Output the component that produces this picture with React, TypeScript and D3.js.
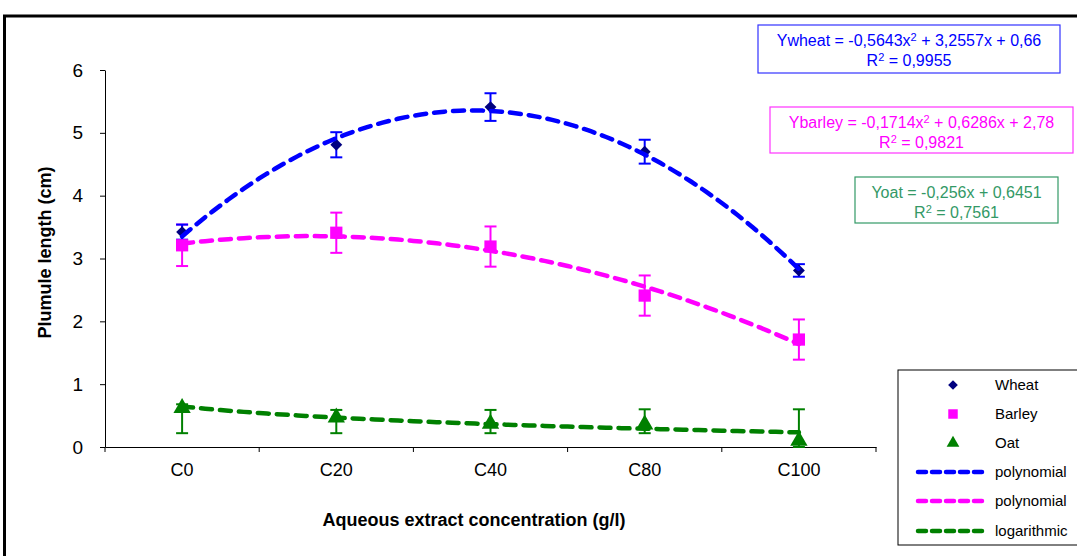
import { useEffect, useRef } from 'react';
import * as d3 from 'd3';

// categories on the x axis
const categories = ['C0', 'C20', 'C40', 'C80', 'C100'];

// means and error bars
const wheat = [3.42, 4.81, 5.41, 4.7, 2.81];
const wheatErr = [0.12, 0.2, 0.22, 0.19, 0.1];
const barley = [3.21, 3.41, 3.19, 2.41, 1.71];
const barleyErr = [0.33, 0.32, 0.32, 0.32, 0.32];
const oat = [0.62, 0.47, 0.37, 0.36, 0.1];
const oatErrLow = [0.4, 0.25, 0.15, 0.14, 0.1];
const oatErrHigh = [0.06, 0.12, 0.22, 0.24, 0.5];

// trend line coefficients as printed on the chart
const wheatPoly = [-0.5643, 3.2557, 0.66];
const barleyPoly = [-0.1714, 0.6286, 2.78];
const oatLog = [-0.256, 0.6451];

const yTicks = [0, 1, 2, 3, 4, 5, 6];

const FONT = '"Liberation Sans", Arial, sans-serif';

export default function App() {
  const svgRef = useRef<SVGSVGElement>(null);

  useEffect(() => {
    const svgWidth = 1077;
    const svgHeight = 556;
    const left = 105;
    const right = 876;
    const top = 70;
    const bottom = 447;

    const svg = d3.select(svgRef.current).attr('width', svgWidth).attr('height', svgHeight);
    svg.selectAll('*').remove();

    svg.append('rect').attr('width', svgWidth).attr('height', svgHeight).attr('fill', '#fff');

    // outer chart frame (only top and left edges are inside the picture)
    svg
      .append('path')
      .attr('d', `M4.5,${svgHeight + 5} V16 H${svgWidth + 5}`)
      .attr('fill', 'none')
      .attr('stroke', '#000')
      .attr('stroke-width', 3);

    const xBand = d3.scaleBand().domain(categories).range([left, right]);
    const xCenter = (i: number) => (xBand(categories[i]) as number) + xBand.bandwidth() / 2;
    const xNum = d3.scaleLinear().domain([1, 5]).range([xCenter(0), xCenter(4)]);
    const y = d3.scaleLinear().domain([0, 6]).range([bottom, top]);

    // y axis
    const yAxis = d3.axisLeft(y).tickValues(yTicks).tickFormat(d3.format('d')).tickSize(5).tickSizeOuter(0);
    const yG = svg.append('g').attr('transform', `translate(${left},0)`).call(yAxis);
    yG.select('.domain').attr('stroke', '#000');
    yG.selectAll('.tick line').attr('stroke', '#000');
    yG.selectAll('.tick text')
      .attr('font-family', FONT)
      .attr('font-size', 19)
      .attr('fill', '#000')
      .attr('x', -22);

    // x axis
    const xAxis = d3.axisBottom(xBand).tickSize(0).tickSizeOuter(0);
    const xG = svg.append('g').attr('transform', `translate(0,${bottom})`).call(xAxis);
    xG.select('.domain').attr('stroke', '#000');
    xG.selectAll('.tick text')
      .attr('font-family', FONT)
      .attr('font-size', 18)
      .attr('fill', '#000')
      .attr('y', 16);
    const boundaries = d3.range(categories.length + 1).map((i) => left + i * xBand.bandwidth());
    svg
      .append('g')
      .selectAll('line')
      .data(boundaries)
      .join('line')
      .attr('x1', (d) => d)
      .attr('x2', (d) => d)
      .attr('y1', bottom)
      .attr('y2', bottom + 5)
      .attr('stroke', '#000');

    // axis titles
    svg
      .append('text')
      .attr('transform', `translate(51,${(top + bottom) / 2 - 6}) rotate(-90)`)
      .attr('text-anchor', 'middle')
      .attr('font-family', FONT)
      .attr('font-weight', 'bold')
      .attr('font-size', 18)
      .text('Plumule length (cm)');
    svg
      .append('text')
      .attr('x', 474)
      .attr('y', 526)
      .attr('text-anchor', 'middle')
      .attr('font-family', FONT)
      .attr('font-weight', 'bold')
      .attr('font-size', 18)
      .text('Aqueous extract concentration (g/l)');

    // trend lines
    const xs = d3.range(1, 5.001, 0.05);
    const line = d3
      .line<[number, number]>()
      .x((d) => xNum(d[0]))
      .y((d) => y(d[1]));
    const trends = [
      { color: '#0000ff', f: (x: number) => wheatPoly[0] * x * x + wheatPoly[1] * x + wheatPoly[2] },
      { color: '#ff00ff', f: (x: number) => barleyPoly[0] * x * x + barleyPoly[1] * x + barleyPoly[2] },
      { color: '#008000', f: (x: number) => oatLog[0] * Math.log(x) + oatLog[1] },
    ];

    // error bars
    const errGroup = svg.append('g');
    const drawErr = (vals: number[], lo: number[], hi: number[], color: string) => {
      vals.forEach((v, i) => {
        const cx = xCenter(i);
        const y1 = y(v + hi[i]);
        const y2 = y(v - lo[i]);
        errGroup.append('line').attr('x1', cx).attr('x2', cx).attr('y1', y1).attr('y2', y2)
          .attr('stroke', color).attr('stroke-width', 2);
        [y1, y2].forEach((yy) =>
          errGroup.append('line').attr('x1', cx - 6).attr('x2', cx + 6).attr('y1', yy).attr('y2', yy)
            .attr('stroke', color).attr('stroke-width', 2));
      });
    };
    drawErr(oat, oatErrLow, oatErrHigh, '#008000');
    drawErr(barley, barleyErr, barleyErr, '#ff00ff');
    drawErr(wheat, wheatErr, wheatErr, '#0000ff');

    // markers
    const markerGroup = svg.append('g');
    const diamond = d3.symbol(d3.symbolDiamond2, 90);
    const square = d3.symbol(d3.symbolSquare, 150);
    const triangle = d3.symbol(d3.symbolTriangle, 130);
    markerGroup.selectAll('.oat').data(oat).join('path').attr('class', 'oat')
      .attr('d', triangle()).attr('fill', '#008000')
      .attr('transform', (d, i) => `translate(${xCenter(i)},${y(d)})`);
    markerGroup.selectAll('.barley').data(barley).join('path').attr('class', 'barley')
      .attr('d', square()).attr('fill', '#ff00ff')
      .attr('transform', (d, i) => `translate(${xCenter(i)},${y(d)})`);
    markerGroup.selectAll('.wheat').data(wheat).join('path').attr('class', 'wheat')
      .attr('d', diamond()).attr('fill', '#000080')
      .attr('transform', (d, i) => `translate(${xCenter(i)},${y(d)})`);

    const trendGroup = svg.append('g');
    trends.forEach((t) => {
      trendGroup.append('path')
        .datum(xs.map((x) => [x, t.f(x)] as [number, number]))
        .attr('d', line)
        .attr('fill', 'none')
        .attr('stroke', t.color)
        .attr('stroke-width', 4.5)
        .attr('stroke-dasharray', '11 8')
        .attr('stroke-linecap', 'round');
    });

    // equation boxes
    const boxes = [
      { x: 758, y: 25, w: 302, h: 48, color: '#0000ff', border: '#3333ff',
        l1: ['Ywheat = -0,5643x', '2', ' + 3,2557x + 0,66'] },
      { x: 770, y: 107, w: 303, h: 46, color: '#ff00ff', border: '#ff33ff',
        l1: ['Ybarley = -0,1714x', '2', ' + 0,6286x + 2,78'] },
      { x: 855, y: 177, w: 203, h: 46, color: '#339966', border: '#339966',
        l1: ['Yoat = -0,256x + 0,6451'] },
    ];
    const r2 = ['0,9955', '0,9821', '0,7561'];
    boxes.forEach((b, k) => {
      const g = svg.append('g');
      g.append('rect').attr('x', b.x).attr('y', b.y).attr('width', b.w).attr('height', b.h)
        .attr('fill', '#fff').attr('stroke', b.border).attr('stroke-width', 1.2);
      const t1 = g.append('text').attr('x', b.x + b.w / 2).attr('y', b.y + 21)
        .attr('text-anchor', 'middle').attr('font-family', FONT).attr('font-size', 16).attr('fill', b.color);
      b.l1.forEach((s, j) => {
        if (j === 1) t1.append('tspan').attr('font-size', 11).attr('dy', -5).text(s);
        else t1.append('tspan').attr('dy', j === 2 ? 5 : 0).text(s);
      });
      const t2 = g.append('text').attr('x', b.x + b.w / 2).attr('y', b.y + 41)
        .attr('text-anchor', 'middle').attr('font-family', FONT).attr('font-size', 16).attr('fill', b.color);
      t2.append('tspan').text('R');
      t2.append('tspan').attr('font-size', 11).attr('dy', -5).text('2');
      t2.append('tspan').attr('dy', 5).text(` = ${r2[k]}`);
    });

    // legend
    const lg = svg.append('g');
    lg.append('rect').attr('x', 898).attr('y', 370).attr('width', 200).attr('height', 175)
      .attr('fill', '#fff').attr('stroke', '#000').attr('stroke-width', 1);
    const rowY = [385, 414, 443, 472, 501, 531];
    const legendItems = [
      { label: 'Wheat', kind: 'diamond', color: '#000080' },
      { label: 'Barley', kind: 'square', color: '#ff00ff' },
      { label: 'Oat', kind: 'triangle', color: '#008000' },
      { label: 'polynomial', kind: 'line', color: '#0000ff' },
      { label: 'polynomial', kind: 'line', color: '#ff00ff' },
      { label: 'logarithmic', kind: 'line', color: '#008000' },
    ];
    legendItems.forEach((it, i) => {
      const yy = rowY[i];
      if (it.kind === 'line') {
        lg.append('line').attr('x1', 918).attr('x2', 986).attr('y1', yy).attr('y2', yy)
          .attr('stroke', it.color).attr('stroke-width', 4.5).attr('stroke-dasharray', '8 6')
          .attr('stroke-linecap', 'round');
      } else {
        const sym = it.kind === 'diamond' ? d3.symbol(d3.symbolDiamond2, 60)
          : it.kind === 'square' ? d3.symbol(d3.symbolSquare, 90) : d3.symbol(d3.symbolTriangle, 70);
        lg.append('path').attr('d', sym()).attr('fill', it.color)
          .attr('transform', `translate(953,${yy})`);
      }
      lg.append('text').attr('x', 995).attr('y', yy + 5).attr('font-family', FONT)
        .attr('font-size', 15).attr('fill', '#000').text(it.label);
    });
  }, []);

  return (
    <div style={{ position: 'fixed', left: 0, top: 0 }}>
      <svg ref={svgRef} style={{ display: 'block' }} />
    </div>
  );
}
